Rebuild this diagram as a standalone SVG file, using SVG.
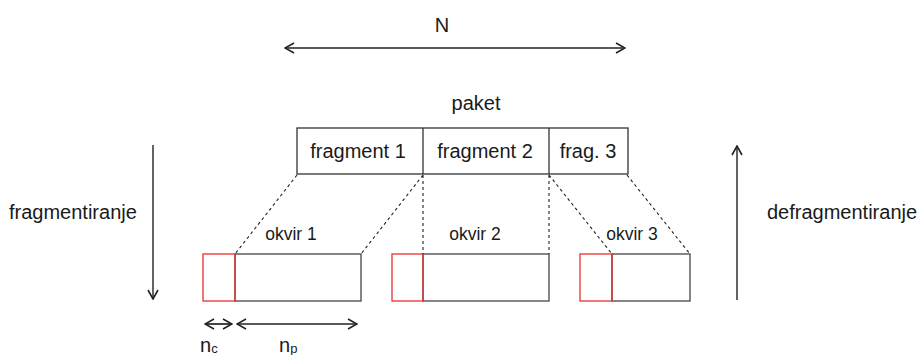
<svg xmlns="http://www.w3.org/2000/svg" width="919" height="355" viewBox="0 0 919 355">
<style>
text{font-family:"Liberation Sans",Arial,sans-serif;fill:#1a1a1a}
.big{font-size:20px}
.sm{font-size:17.5px}
.box{fill:#fff;stroke:#333;stroke-width:1.3}
.fr{fill:#fff;stroke:#444;stroke-width:1.3}
.red{fill:none;stroke:#e8302f;stroke-width:1.3}
.dash{stroke:#222;stroke-width:1.1;stroke-dasharray:3,3;fill:none}
.arr{stroke:#222;stroke-width:1.7;fill:none;marker-start:url(#ah);marker-end:url(#ah)}
.arr1{stroke:#222;stroke-width:1.4;fill:none;marker-end:url(#ah)}
</style>
<defs>
<marker id="ah" viewBox="0 0 12 12" refX="11" refY="6" markerWidth="12" markerHeight="12" markerUnits="userSpaceOnUse" orient="auto-start-reverse">
<path d="M2,1 L11,6 L2,11" fill="none" stroke="#222" stroke-width="1.6"/>
</marker>
</defs>
<g id="label-N"><text class="big" x="442" y="32" text-anchor="middle">N</text></g>
<g id="label-paket"><text class="big" x="476" y="110" text-anchor="middle">paket</text></g>
<g id="packet">
<rect class="box" x="297" y="128" width="331" height="46"/>
<line x1="423" y1="128" x2="423" y2="174" stroke="#333" stroke-width="1.3"/>
<line x1="549" y1="128" x2="549" y2="174" stroke="#333" stroke-width="1.3"/>
<text class="big" x="358" y="158" text-anchor="middle">fragment 1</text>
<text class="big" x="485" y="158" text-anchor="middle">fragment 2</text>
<text class="big" x="588" y="158" text-anchor="middle">frag. 3</text>
</g>
<g id="frame1">
<rect class="fr" x="235" y="254" width="126" height="47"/>
<rect class="red" x="203" y="254" width="32" height="47"/>
<text class="sm" x="291" y="240" text-anchor="middle">okvir 1</text>
</g>
<g id="frame2">
<rect class="fr" x="423" y="254" width="126" height="47"/>
<rect class="red" x="392" y="254" width="31" height="47"/>
<text class="sm" x="475" y="240" text-anchor="middle">okvir 2</text>
</g>
<g id="frame3">
<rect class="fr" x="612" y="254" width="78" height="47"/>
<rect class="red" x="580" y="254" width="32" height="47"/>
<text class="sm" x="632" y="240" text-anchor="middle">okvir 3</text>
</g>
<g id="label-frag"><text class="big" x="9" y="219">fragmentiranje</text></g>
<g id="label-defrag"><text class="big" x="767" y="219">defragmentiranje</text></g>
<g id="label-nc"><text class="big" x="200" y="352">n<tspan font-size="13" dy="1">c</tspan></text></g>
<g id="label-np"><text class="big" x="279" y="352">n<tspan font-size="13" dy="1">p</tspan></text></g>
<g id="connectors">
<line class="arr" x1="285" y1="48" x2="625" y2="48"/>
<line class="arr1" x1="153" y1="145" x2="153" y2="299"/>
<line class="arr1" x1="737" y1="300" x2="737" y2="146"/>
<line class="arr" x1="205" y1="324" x2="232" y2="324"/>
<line class="arr" x1="237" y1="324" x2="357" y2="324"/>
<path class="dash" d="M297,175 L235,254 M423,175 L361,254 M423,175 L423,254 M549,175 L549,254 M549,175 L612,254 M627,175 L690,254"/>
</g>
</svg>
